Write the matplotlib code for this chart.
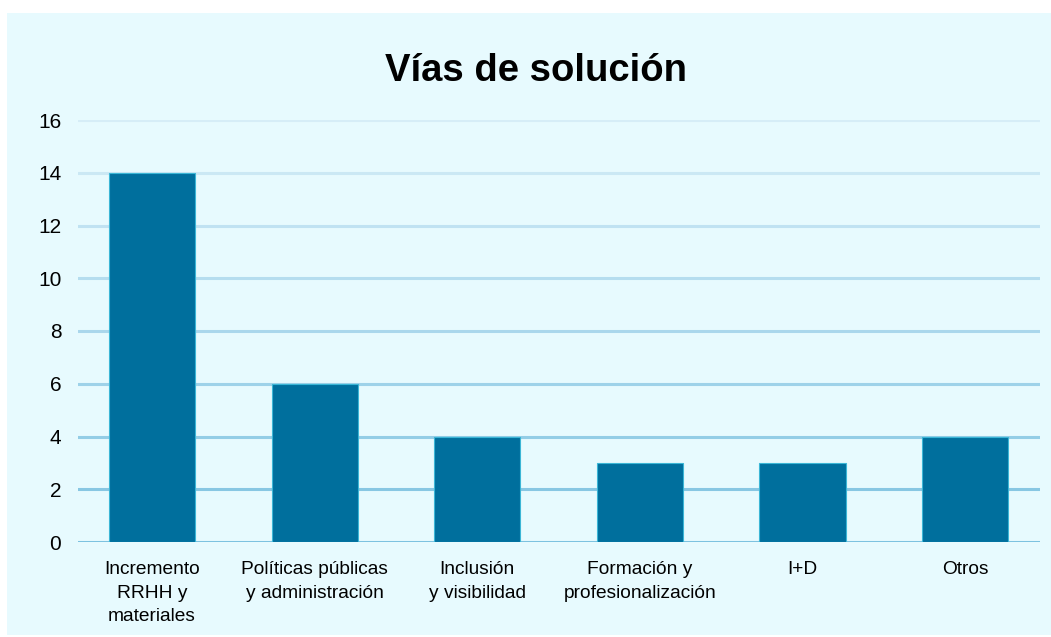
import matplotlib
matplotlib.use("Agg")
import matplotlib.pyplot as plt
from matplotlib.patches import Rectangle
import numpy as np

categories = ["Incremento\nRRHH y\nmateriales", "Políticas públicas\ny administración",
              "Inclusión\ny visibilidad", "Formación y\nprofesionalización", "I+D", "Otros"]
values = [14, 6, 4, 3, 3, 4]
yticks = [0, 2, 4, 6, 8, 10, 12, 14, 16]

plt.rcParams["font.family"] = ["Liberation Sans", "DejaVu Sans"]

fig = plt.figure(figsize=(10.51, 6.37), dpi=100, facecolor="white")
bg = Rectangle((7 / 1051, 2 / 637), 1 - 7 / 1051, 1 - 15 / 637,
               transform=fig.transFigure, facecolor="#E7FAFE",
               edgecolor="none", zorder=-10)
fig.add_artist(bg)

ax = fig.add_axes([78 / 1051, 1 - 542 / 637, (1040 - 78) / 1051, (542 - 120) / 637])
ax.set_facecolor("none")
ax.set_zorder(5)

x = np.arange(len(categories))

# gridlines fade from dark (bottom) to light (top)
light = np.array([0.84, 0.93, 0.97])
dark = np.array([0.49, 0.76, 0.88])
for i, t in enumerate(yticks):
    f = i / (len(yticks) - 1)
    ax.axhline(t, color=tuple(dark * (1 - f) + light * f), linewidth=2.2, zorder=1)

ax.bar(x, values, width=0.53, color="#006F9D", edgecolor="#3BB6D6",
       linewidth=0.8, zorder=2)

ax.set_xlim(-0.455, len(categories) - 1 + 0.46)
ax.set_ylim(0, 16)
ax.set_yticks(yticks)
ax.set_xticks(x)
ax.set_xticklabels(categories, fontsize=13.8, linespacing=1.5)
ax.tick_params(axis="y", labelsize=15, length=0, pad=12)
ax.tick_params(axis="x", length=0, pad=14)
for s in ax.spines.values():
    s.set_visible(False)

fig.text(536 / 1051, 1 - 71 / 637, "Vías de solución", ha="center", va="center",
         fontsize=27.5, fontweight="bold")

fig.savefig("out.png", dpi=100, facecolor="white")
